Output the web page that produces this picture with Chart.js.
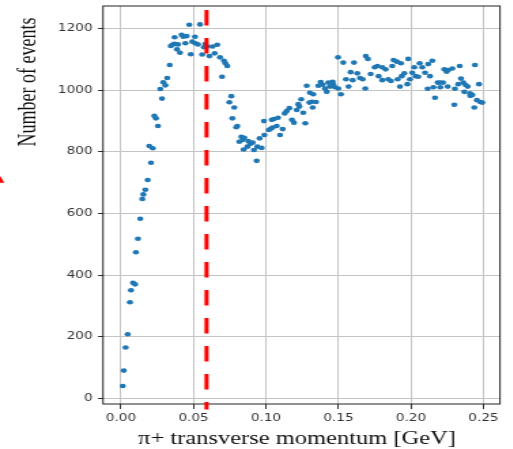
<!DOCTYPE html>
<html>
<head>
<meta charset="utf-8">
<script src="https://cdn.jsdelivr.net/npm/chart.js@4.4.1/dist/chart.umd.min.js"></script>
<style>
  html, body { margin: 0; padding: 0; background: #fff; overflow: hidden; }
  #wrap { position: absolute; left: 0; top: 0; height: 449px; transform-origin: 0 0; }
</style>
</head>
<body>
<div id="wrap"><canvas id="chart"></canvas></div>
<script>
// the figure is drawn narrow and then stretched sideways
var SX = 1.36;
var W = 513 / SX, H = 449;

// pi+ pT spectrum
var momentum = [
  0.0012, 0.0019, 0.0032, 0.0046, 0.0062, 0.0069, 0.0083, 0.0097, 0.0103, 0.0117,
  0.0133, 0.0147, 0.0154, 0.0168, 0.0184, 0.0195, 0.0207, 0.0219, 0.0230, 0.0241,
  0.0255, 0.0271, 0.0283, 0.0292, 0.0306, 0.0319, 0.0336, 0.0343, 0.0354, 0.0368,
  0.0370, 0.0386, 0.0393, 0.0407, 0.0418, 0.0430, 0.0444, 0.0453, 0.0471, 0.0481,
  0.0492, 0.0510, 0.0512, 0.0531, 0.0545, 0.0560, 0.0572, 0.0582, 0.0595, 0.0610,
  0.0632, 0.0646, 0.0664, 0.0683, 0.0697, 0.0710, 0.0720, 0.0733, 0.0747, 0.0761,
  0.0768, 0.0781, 0.0795, 0.0802, 0.0816, 0.0830, 0.0839, 0.0846, 0.0850, 0.0878,
  0.0872, 0.0890, 0.0908, 0.0917, 0.0936, 0.0940, 0.0956, 0.0970, 0.0986, 0.0989,
  0.1019, 0.1032, 0.1040, 0.1046, 0.1055, 0.1074, 0.1083, 0.1097, 0.1115, 0.1129,
  0.1143, 0.1161, 0.1179, 0.1193, 0.1212, 0.1223, 0.1230, 0.1243, 0.1257, 0.1271,
  0.1281, 0.1299, 0.1303, 0.1317, 0.1322, 0.1326, 0.1345, 0.1361, 0.1377, 0.1391,
  0.1407, 0.1419, 0.1430, 0.1441, 0.1460, 0.1464, 0.1476, 0.1497, 0.1499, 0.1517,
  0.1533, 0.1552, 0.1570, 0.1584, 0.1598, 0.1607, 0.1630, 0.1648, 0.1667, 0.1685,
  0.1688, 0.1703, 0.1722, 0.1750, 0.1768, 0.1777, 0.1802, 0.1802, 0.1825, 0.1843,
  0.1862, 0.1871, 0.1880, 0.1903, 0.1908, 0.1924, 0.1931, 0.1936, 0.1954, 0.1975,
  0.1981, 0.1993, 0.2009, 0.2023, 0.2032, 0.2050, 0.2060, 0.2078, 0.2097, 0.2115,
  0.2119, 0.2131, 0.2147, 0.2154, 0.2166, 0.2184, 0.2200, 0.2202, 0.2221, 0.2230,
  0.2246, 0.2253, 0.2257, 0.2285, 0.2299, 0.2303, 0.2326, 0.2336, 0.2345, 0.2361,
  0.2368, 0.2377, 0.2391, 0.2407, 0.2409, 0.2423, 0.2437, 0.2441, 0.2455, 0.2469,
  0.2478, 0.2492
];
var events = [
  40, 90, 165, 208, 312, 351, 375, 370, 474, 518,
  583, 647, 662, 677, 709, 819, 765, 812, 917, 909,
  884, 1004, 973, 1026, 1016, 1040, 1082, 1144, 1148, 1151,
  1172, 1133, 1149, 1122, 1180, 1174, 1153, 1176, 1213, 1117,
  1158, 1174, 1153, 1149, 1214, 1116, 1140, 1150, 1142, 1111,
  1142, 1120, 1148, 1107, 1044, 1096, 1088, 1079, 961, 981,
  909, 944, 880, 884, 833, 849, 839, 808, 846, 835,
  817, 826, 830, 806, 771, 817, 844, 813, 900, 855,
  871, 875, 904, 879, 907, 884, 911, 855, 874, 925,
  933, 942, 904, 895, 936, 955, 947, 971, 927, 893,
  1015, 960, 992, 963, 944, 987, 962, 1015, 1027, 1018,
  1006, 995, 1025, 1012, 1028, 1019, 1010, 1107, 1006, 987,
  1090, 1036, 1012, 1059, 1033, 1090, 1055, 1040, 1036, 1006,
  1111, 1102, 1053, 1075, 1079, 1046, 1075, 1033, 1068, 1036,
  1030, 1079, 1098, 1093, 1036, 1012, 1088, 1046, 1055, 1020,
  1102, 1036, 1057, 1075, 1046, 1044, 1088, 1075, 1057, 1005,
  1085, 1046, 1096, 1010, 976, 1025, 1025, 1010, 1025, 1068,
  1060, 1012, 1066, 1071, 953, 1005, 1020, 1079, 1038, 1025,
  995, 1017, 1012, 990, 982, 985, 944, 1082, 968, 1020,
  962, 960
];

var xTicks = [0, 0.05, 0.10, 0.15, 0.20, 0.25];
var yTicks = [0, 200, 400, 600, 800, 1000, 1200];
var cutValue = 0.059;
var xTitle = 'π+ transverse momentum [GeV]';
var yTitle = 'Number of events';

var points = momentum.map(function(x, i) { return {x: x, y: events[i]}; });

var extras = {
  id: 'extras',
  beforeDraw: function(chart) {
    var ctx = chart.ctx;
    ctx.save();
    ctx.fillStyle = '#fff';
    ctx.fillRect(0, 0, chart.width, chart.height);
    ctx.restore();
  },
  beforeDatasetsDraw: function(chart) {
    var ctx = chart.ctx, a = chart.chartArea;
    ctx.save();
    ctx.strokeStyle = '#222';
    ctx.lineWidth = 1;
    ctx.strokeRect(a.left, a.top, a.right - a.left, a.bottom - a.top);
    ctx.restore();
  },
  afterDatasetsDraw: function(chart) {
    var ctx = chart.ctx, a = chart.chartArea;
    var x = chart.scales.x.getPixelForValue(cutValue);
    ctx.save();
    ctx.strokeStyle = '#ff0000';
    ctx.lineWidth = 3;
    ctx.setLineDash([15.5, 12.5]);
    ctx.lineDashOffset = 8;
    ctx.beginPath();
    ctx.moveTo(x, a.bottom + 5.5);
    ctx.lineTo(x, 8.8);
    ctx.stroke();
    ctx.restore();
  },
  afterDraw: function(chart) {
    var ctx = chart.ctx;
    ctx.save();
    ctx.fillStyle = '#111';
    ctx.font = '18px "Liberation Serif"';
    ctx.textAlign = 'center';
    ctx.textBaseline = 'alphabetic';
    ctx.fillText(xTitle, 297 / SX, 444);

    ctx.translate(25.7, 82);
    ctx.rotate(-Math.PI / 2);
    ctx.fillText(yTitle, 0, 0);
    ctx.restore();

    // red marker clipped at the left edge
    ctx.save();
    ctx.fillStyle = '#ff0000';
    ctx.beginPath();
    ctx.moveTo(0, 175.7);
    ctx.lineTo(0, 182.7);
    ctx.lineTo(4.3 / SX, 182.7);
    ctx.closePath();
    ctx.fill();
    ctx.restore();
  }
};

var tickFont = {family: 'DejaVu Sans', size: 10};

window.onload = function() {
  var wrap = document.getElementById('wrap');
  wrap.style.width = W + 'px';
  wrap.style.transform = 'scaleX(' + SX + ')';

  new Chart(document.getElementById('chart'), {
    type: 'scatter',
    data: {
      datasets: [{
        data: points,
        backgroundColor: '#1f77b4',
        borderWidth: 0,
        pointRadius: 2.3,
        pointHoverRadius: 2.3
      }]
    },
    options: {
      responsive: true,
      maintainAspectRatio: false,
      animation: false,
      devicePixelRatio: 1,
      layout: { padding: { left: 0, right: W - 500 / SX, top: 6, bottom: 0 } },
      plugins: { legend: { display: false }, tooltip: { enabled: false } },
      scales: {
        x: {
          type: 'linear',
          min: -0.0124,
          max: 0.2614,
          afterBuildTicks: function(s) { s.ticks = xTicks.map(function(v) { return {value: v}; }); },
          afterFit: function(s) { s.height = H - 404; s.paddingLeft = 0; s.paddingRight = 0; },
          border: { display: false },
          grid: { color: '#c4c4c4', lineWidth: 1, tickColor: '#333', tickLength: 5 },
          ticks: {
            font: tickFont, color: '#333', padding: 3, maxRotation: 0, autoSkip: false,
            callback: function(v) { return v.toFixed(2); }
          }
        },
        y: {
          type: 'linear',
          min: -18.5,
          max: 1273.7,
          afterBuildTicks: function(s) { s.ticks = yTicks.map(function(v) { return {value: v}; }); },
          afterFit: function(s) { s.width = 103 / SX; s.paddingTop = 0; s.paddingBottom = 0; },
          border: { display: false },
          grid: { color: '#c4c4c4', lineWidth: 1, tickColor: '#333', tickLength: 3.7 },
          ticks: {
            font: tickFont, color: '#333', padding: 4, autoSkip: false,
            callback: function(v) { return String(v); }
          }
        }
      }
    },
    plugins: [extras]
  });
};
</script>
</body>
</html>
